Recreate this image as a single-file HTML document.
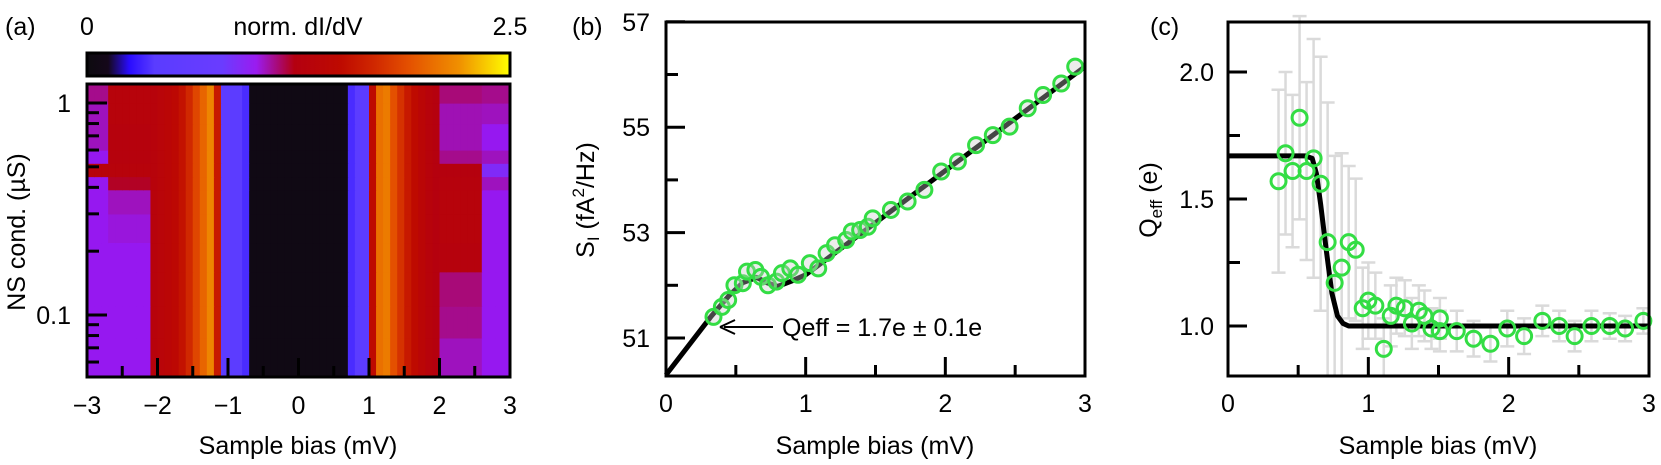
<!DOCTYPE html>
<html><head><meta charset="utf-8">
<style>
html,body{margin:0;padding:0;background:#fff;}
svg{display:block;font-family:"Liberation Sans",sans-serif;}
text{fill:#000;}
</style></head>
<body>
<svg id="fig" width="1661" height="465" viewBox="0 0 1661 465" xmlns="http://www.w3.org/2000/svg">
<defs>
<linearGradient id="cbgrad" x1="0" x2="1" y1="0" y2="0">
<stop offset="0" stop-color="#0d0a0f"/><stop offset="0.05" stop-color="#15081a"/>
<stop offset="0.1" stop-color="#2a0cff"/><stop offset="0.16" stop-color="#5a3cff"/>
<stop offset="0.32" stop-color="#6a3cff"/><stop offset="0.4" stop-color="#9a1cf0"/>
<stop offset="0.45" stop-color="#a80a78"/><stop offset="0.49" stop-color="#b40010"/>
<stop offset="0.6" stop-color="#be0a00"/><stop offset="0.68" stop-color="#d02800"/>
<stop offset="0.76" stop-color="#e45000"/>
<stop offset="0.88" stop-color="#f09000"/><stop offset="1" stop-color="#ffff00"/>
</linearGradient>
</defs>
<g id="pa"></g>
<g id="pb"></g>
<g id="pc"></g>
</svg>
<script>
// ---------- Panel (a) heatmap data ----------
var biasCells = 60; // cells of 0.1 mV from -3 to 3
var profile = [1.0,1.0,1.0,1.0,1.0,1.0,1.0,1.05,1.1,
 1.3,1.35,1.4,1.45,1.55,
 1.7,1.85,2.0,2.15,
 1.6,
 0.45,0.45,0.45,0.35,
 0.05,0.05,0.05,0.05,0.05,0.05,0.05,0.05,0.05,0.05,0.05,0.05,0.05,0.05,
 0.35,0.45,0.45,
 1.5,2.05,2.1,1.9,1.75,1.6,1.5,1.4,1.3,1.25,
 1.15,1.1,1.05,1.05,1.0,1.0,1.0,1.0,0.95,0.95];
var rowEdges = [0.05,0.078,0.11,0.16,0.22,0.3,0.39,0.45,0.52,0.6,0.8,1.0,1.23];
var rowLeft  = [1.0,1.0,1.0,1.0,1.02,1.05,1.2,1.3,1.28,1.28,1.3,1.3];
var rowEdge  = [1.0,1.0,1.0,1.0,1.0,1.0,1.0,1.3,1.0,1.05,1.05,1.1];
var rowRight = [1.05,1.1,1.12,1.28,1.3,1.3,1.28,1.25,1.1,1.06,1.06,1.12];
var rowFar   = [1.0,1.0,1.0,1.0,1.0,1.0,1.05,0.9,1.05,1.0,1.05,1.1];
var cbTicks = ["0","2.5"];
var aXTicks = [-3,-2,-1,0,1,2,3];
var aYTicks = [0.1,1];

// ---------- Panel (b) data ----------
var bBias = [0.34,0.40,0.445,0.49,0.55,0.58,0.64,0.68,0.73,0.79,0.83,0.89,0.945,1.03,1.09,1.15,1.21,1.29,1.33,1.39,1.445,1.48,1.61,1.73,1.85,1.97,2.09,2.22,2.34,2.46,2.59,2.70,2.83,2.93];
var bNoise = [51.40,51.59,51.72,52.0,52.04,52.26,52.29,52.16,52.0,52.07,52.23,52.32,52.20,52.42,52.32,52.61,52.76,52.86,53.02,53.05,53.11,53.27,53.43,53.59,53.81,54.16,54.35,54.66,54.85,55.01,55.36,55.61,55.83,56.15];
var bFitX = [0,0.32,0.45,0.55,0.65,0.72,0.8,0.9,1.0,3.0];
var bFitY = [50.3,51.4,51.8,52.05,52.15,52.05,51.98,52.08,52.2,56.15];
var bXTicks = [0,1,2,3];
var bYTicks = [51,53,55,57];

// ---------- Panel (c) data ----------
var cBias = [0.36,0.41,0.46,0.51,0.56,0.61,0.66,0.71,0.76,0.81,0.86,0.91,0.96,1.00,1.05,1.11,1.16,1.20,1.26,1.31,1.36,1.40,1.45,1.51,1.51,1.63,1.75,1.87,1.99,2.11,2.24,2.36,2.47,2.59,2.72,2.83,2.96];
var cQ = [1.57,1.68,1.61,1.82,1.61,1.66,1.56,1.33,1.17,1.23,1.33,1.30,1.07,1.10,1.08,0.91,1.04,1.08,1.07,1.01,1.06,1.04,0.99,1.03,0.98,0.98,0.95,0.93,0.99,0.96,1.02,1.00,0.96,1.00,1.00,0.99,1.02];
var cErr = [0.36,0.32,0.3,0.4,0.35,0.47,0.5,0.55,0.5,0.45,0.3,0.28,0.16,0.15,0.13,0.12,0.12,0.11,0.11,0.1,0.1,0.1,0.08,0.08,0.08,0.08,0.07,0.07,0.07,0.07,0.06,0.06,0.06,0.06,0.05,0.05,0.05];
var cFitX = [0,0.55,0.6,0.63,0.66,0.7,0.74,0.78,0.82,0.86,0.9,3];
var cFitY = [1.67,1.67,1.66,1.6,1.48,1.3,1.13,1.04,1.01,1.0,1.0,1.0];
var cXTicks = [0,1,2,3];
var cYTicks = [1.0,1.5,2.0];

var NS = "http://www.w3.org/2000/svg";
function mk(parent, tag, attrs, txt){
  var e = document.createElementNS(NS, tag);
  for (var k in attrs) e.setAttribute(k, attrs[k]);
  if (txt !== undefined) e.textContent = txt;
  parent.appendChild(e);
  return e;
}
var stops = [[0,[13,10,15]],[0.12,[21,8,26]],[0.25,[42,12,255]],[0.4,[90,60,255]],[0.8,[106,60,255]],[1.0,[150,24,240]],[1.12,[168,10,120]],[1.22,[180,0,16]],[1.5,[190,10,0]],[1.7,[208,40,0]],[1.9,[228,80,0]],[2.2,[240,144,0]],[2.5,[255,255,0]]];
function cmap(v){
  if (v<=0) v=0; if (v>=2.5) v=2.5;
  for (var i=0;i<stops.length-1;i++){
    var a=stops[i], b=stops[i+1];
    if (v<=b[0]){ var t=(v-a[0])/(b[0]-a[0]);
      return "rgb("+[0,1,2].map(function(j){return Math.round(a[1][j]+t*(b[1][j]-a[1][j]));}).join(",")+")"; }
  }
  return "rgb(255,255,0)";
}

// ===== Panel A =====
(function(){
  var g = document.getElementById("pa");
  var L=87,R=510,T=84,B=377;
  var ax = function(v){ return L + (v+3)/6*(R-L); };
  var ay = function(g){ return 103 + (0 - Math.log10(g))*212; };
  var t;
  t = mk(g,"text",{x:5,y:35,"font-size":25}, "(a)");
  
  
  var cb = mk(g,"rect",{x:L,y:53,width:R-L,height:23,fill:"url(#cbgrad)",stroke:"#000","stroke-width":3});
  
  
  t = mk(g,"text",{x:L,y:35,"font-size":25,"text-anchor":"middle"}, cbTicks[0]);
  
  
  t = mk(g,"text",{x:R,y:35,"font-size":25,"text-anchor":"middle"}, cbTicks[1]);
  
  
  t = mk(g,"text",{x:298,y:35,"font-size":25,"text-anchor":"middle"}, "norm. dI/dV");
  
  
  var hm = mk(g,"g",{});
  
  
  for (var r=0;r<rowLeft.length;r++){
    var y1 = Math.max(T, ay(rowEdges[r+1])), y0 = Math.min(B, ay(rowEdges[r]));
    for (var c=0;c<biasCells;c++){
      var v0 = -3 + c*0.1, vc = v0+0.05;
      var val = profile[c];
      if (vc < -2.7) val = rowEdge[r];
      else if (vc < -2.1) val = rowLeft[r];
      else if (vc > 2.6) val = rowFar[r];
      else if (vc > 2.0) val = rowRight[r];
      var x0 = ax(v0), x1 = ax(v0+0.1);
      var cell = mk(hm,"rect",{x:x0,y:y1,width:x1-x0+0.6,height:y0-y1+0.6,fill:cmap(val)});
      
      
    }
  }
  var fr = mk(g,"rect",{x:L,y:T,width:R-L,height:B-T,fill:"none",stroke:"#000","stroke-width":3});
  
  
  for (var i=-3;i<=3;i+=0.5){
    var major = Math.abs(i-Math.round(i))<1e-6;
    var tk = mk(g,"line",{x1:ax(i),x2:ax(i),y1:B,y2:B-(major?19:11),stroke:"#000","stroke-width":3});
    
    
  }
  aXTicks.forEach(function(v){
    var tl = mk(g,"text",{x:ax(v),y:414,"font-size":25,"text-anchor":"middle"}, v<0?"\u2212"+(-v):String(v));
    
    
  });
  [0.06,0.07,0.08,0.09,0.1,0.2,0.3,0.4,0.5,0.6,0.7,0.8,0.9,1].forEach(function(gv){
    var major = (gv===0.1||gv===1);
    var yy = ay(gv); if (yy<T||yy>B) return;
    var tk = mk(g,"line",{x1:L,x2:L+(major?20:12),y1:yy,y2:yy,stroke:"#000","stroke-width":3});
    
    
  });
  aYTicks.forEach(function(gv){
    var tl = mk(g,"text",{x:71,y:ay(gv)+9,"font-size":25,"text-anchor":"end"}, String(gv));
    
    
  });
  t = mk(g,"text",{x:298,y:454,"font-size":25,"text-anchor":"middle"}, "Sample bias (mV)");
  
  
  t = mk(g,"text",{x:0,y:0,"font-size":25,"text-anchor":"middle",transform:"translate(25,232) rotate(-90)"}, "NS cond. (\u00b5S)");
  
  
})();

// ===== Panel B =====
(function(){
  var g = document.getElementById("pb");
  var L=666,R=1085,T=22,B=376;
  var bx = function(v){ return L + v*(R-L)/3; };
  var by = function(s){ return 338 - (s-51)*52.7; };
  var t = mk(g,"text",{x:572,y:35,"font-size":25}, "(b)");
  
  
  var d = bFitX.map(function(x,i){return (i?"L":"M")+bx(x)+","+by(bFitY[i]);}).join(" ");
  var fit = mk(g,"path",{d:d,fill:"none",stroke:"#000","stroke-width":5,"stroke-linejoin":"round"});
  
  
  var ptsG = mk(g,"g",{});
  
  
  bBias.forEach(function(v,i){
    var c = mk(ptsG,"circle",{cx:bx(v),cy:by(bNoise[i]),r:7.5,fill:"rgba(200,200,200,0.35)",stroke:"#33dd44","stroke-width":3});
    
    
  });
  var fr = mk(g,"rect",{x:L,y:T,width:R-L,height:B-T,fill:"none",stroke:"#000","stroke-width":3});
  
  
  for (var i=0;i<=3;i+=0.5){
    var major = Math.abs(i-Math.round(i))<1e-6;
    var tk = mk(g,"line",{x1:bx(i),x2:bx(i),y1:B,y2:B-(major?19:11),stroke:"#000","stroke-width":3});
    
    
  }
  bXTicks.forEach(function(v){
    var tl = mk(g,"text",{x:bx(v),y:412,"font-size":25,"text-anchor":"middle"}, String(v));
    
    
  });
  for (var s=51;s<=57;s++){
    var major = (s%2===1);
    var tk2 = mk(g,"line",{x1:L,x2:L+(major?19:12),y1:by(s),y2:by(s),stroke:"#000","stroke-width":3});
    
    
  }
  bYTicks.forEach(function(s){
    var tl = mk(g,"text",{x:650,y:by(s)+9,"font-size":25,"text-anchor":"end"}, String(s));
    
    
  });
  var ar = mk(g,"line",{x1:773,x2:724,y1:327,y2:327,stroke:"#000","stroke-width":2});
  
  
  var ah = mk(g,"path",{d:"M720,327 L735,320 M720,327 L735,334",stroke:"#000","stroke-width":2,fill:"none"});
  
  
  t = mk(g,"text",{x:782,y:336,"font-size":25}, "Qeff = 1.7e \u00b1 0.1e");
  
  
  t = mk(g,"text",{x:875,y:454,"font-size":25,"text-anchor":"middle"}, "Sample bias (mV)");
  
  
  var yl = mk(g,"text",{x:0,y:0,"font-size":25,"text-anchor":"middle",transform:"translate(594,200) rotate(-90)"});
  
  
  mk(yl,"tspan",{},"S");
  mk(yl,"tspan",{"font-size":17,dy:5},"I");
  mk(yl,"tspan",{dy:-5}," (fA");
  mk(yl,"tspan",{"font-size":17,dy:-10},"2");
  mk(yl,"tspan",{dy:10},"/Hz)");
})();

// ===== Panel C =====
(function(){
  var g = document.getElementById("pc");
  var L=1228,R=1649,T=22,B=376;
  var cx = function(v){ return L + v*(R-L)/3; };
  var cy = function(q){ return 326 - (q-1)*254; };
  var t = mk(g,"text",{x:1150,y:35,"font-size":25}, "(c)");
  
  
  var eg = mk(g,"g",{});
  
  
  cBias.forEach(function(v,i){
    var x=cx(v), y0=Math.min(B,cy(cQ[i]-cErr[i])), y1=cy(cQ[i]+cErr[i]);
    var e = mk(eg,"path",{d:"M"+x+","+y0+"L"+x+","+y1+"M"+(x-7)+","+y1+"L"+(x+7)+","+y1+(y0<B?"M"+(x-7)+","+y0+"L"+(x+7)+","+y0:""),stroke:"#dadada","stroke-width":2.5,fill:"none"});
    
    
  });
  var d = cFitX.map(function(x,i){return (i?"L":"M")+cx(x)+","+cy(cFitY[i]);}).join(" ");
  var fit = mk(g,"path",{d:d,fill:"none",stroke:"#000","stroke-width":5,"stroke-linejoin":"round"});
  
  
  var pg = mk(g,"g",{});
  
  
  cBias.forEach(function(v,i){
    var c = mk(pg,"circle",{cx:cx(v),cy:cy(cQ[i]),r:7.5,fill:"none",stroke:"#33dd44","stroke-width":3});
    
    
  });
  var fr = mk(g,"rect",{x:L,y:T,width:R-L,height:B-T,fill:"none",stroke:"#000","stroke-width":3});
  
  
  for (var i=0;i<=3;i+=0.5){
    var major = Math.abs(i-Math.round(i))<1e-6;
    var tk = mk(g,"line",{x1:cx(i),x2:cx(i),y1:B,y2:B-(major?19:11),stroke:"#000","stroke-width":3});
    
    
  }
  cXTicks.forEach(function(v){
    var tl = mk(g,"text",{x:cx(v),y:412,"font-size":25,"text-anchor":"middle"}, String(v));
    
    
  });
  [1.0,1.25,1.5,1.75,2.0].forEach(function(q){
    var major = (q===1.0||q===1.5||q===2.0);
    var tk2 = mk(g,"line",{x1:L,x2:L+(major?19:12),y1:cy(q),y2:cy(q),stroke:"#000","stroke-width":3});
    
    
  });
  cYTicks.forEach(function(q){
    var tl = mk(g,"text",{x:1214,y:cy(q)+9,"font-size":25,"text-anchor":"end"}, q.toFixed(1));
    
    
  });
  t = mk(g,"text",{x:1438,y:454,"font-size":25,"text-anchor":"middle"}, "Sample bias (mV)");
  
  
  var yl = mk(g,"text",{x:0,y:0,"font-size":25,"text-anchor":"middle",transform:"translate(1157,200) rotate(-90)"});
  
  
  mk(yl,"tspan",{},"Q");
  mk(yl,"tspan",{"font-size":17,dy:5},"eff");
  mk(yl,"tspan",{dy:-5}," (e)");
})();
</script>
</body></html>
